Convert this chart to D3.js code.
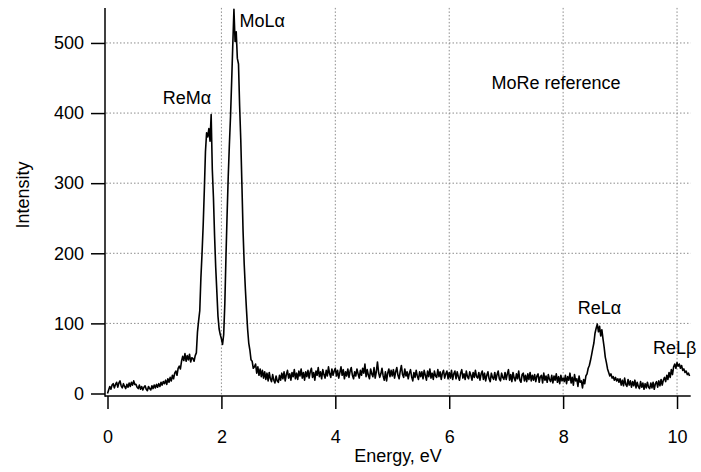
<!DOCTYPE html>
<html>
<head>
<meta charset="utf-8">
<script src="https://cdn.jsdelivr.net/npm/d3@7"></script>
<style>
  html, body { margin: 0; padding: 0; background: #fff; }
  svg text { font-family: "Liberation Sans", Arial, Helvetica, sans-serif; fill: #000; }
</style>
</head>
<body>
<svg id="chart" width="701" height="472"></svg>
<script>
// Channel calibration (eV)
const energyStart = 0;
const energyStep = 0.02;

// Intensity per channel (rows of 0.5 eV)
const intensity = [
  // 0.00 - 0.48
  0, 5, 10, 6, 12, 14, 8, 13, 16, 9, 15, 18, 11, 8, 14, 10, 7, 13, 9, 15, 10, 16, 12, 18, 13,
  // 0.50 - 0.98
  13, 9, 7, 12, 6, 10, 5, 9, 11, 6, 4, 10, 7, 5, 11, 7, 12, 8, 13, 9, 14, 10, 16, 12, 17,
  // 1.00 - 1.48
  14, 19, 13, 21, 16, 23, 18, 26, 21, 29, 32, 26, 36, 39, 35, 46, 53, 47, 57, 46, 54, 48, 56, 45, 51,
  // 1.50 - 1.98
  50, 46, 54, 58, 88, 104, 118, 165, 200, 240, 290, 345, 372, 366, 378, 360, 398, 320, 280, 225, 180, 145, 110, 92, 84,
  // 2.00 - 2.48
  78, 70, 84, 128, 195, 255, 310, 355, 395, 445, 498, 548, 502, 516, 478, 470, 410, 362, 298, 232, 185, 150, 120, 92, 72,
  // 2.50 - 2.98
  62, 48, 46, 36, 38, 42, 29, 38, 26, 35, 24, 33, 22, 31, 20, 29, 18, 30, 21, 17, 27, 19, 15, 25, 18,
  // 3.00 - 3.48
  16, 26, 19, 29, 21, 31, 18, 27, 33, 22, 28, 19, 30, 24, 34, 21, 29, 20, 32, 25, 35, 22, 30, 19, 31,
  // 3.50 - 3.98
  24, 33, 22, 31, 36, 23, 30, 19, 32, 26, 37, 24, 31, 21, 34, 27, 22, 33, 25, 38, 28, 23, 35, 26, 32,
  // 4.00 - 4.48
  36, 25, 33, 22, 30, 38, 26, 34, 21, 31, 25, 35, 23, 32, 37, 26, 21, 31, 25, 35, 28, 22, 33, 26, 36,
  // 4.50 - 4.98
  29, 42, 24, 34, 26, 21, 35, 28, 24, 37, 22, 31, 45, 30, 23, 28, 36, 25, 19, 31, 18, 29, 35, 24, 33,
  // 5.00 - 5.48
  25, 34, 22, 31, 37, 26, 21, 32, 40, 27, 23, 35, 25, 31, 21, 29, 34, 24, 18, 30, 23, 33, 25, 20, 31,
  // 5.50 - 5.98
  24, 31, 21, 33, 26, 19, 32, 24, 35, 22, 29, 20, 32, 25, 23, 34, 24, 31, 20, 29, 33, 22, 28, 32, 21,
  // 6.00 - 6.48
  30, 22, 33, 20, 28, 32, 21, 31, 24, 19, 29, 34, 22, 28, 20, 32, 24, 21, 31, 26, 19, 30, 23, 33, 24,
  // 6.50 - 6.98
  22, 30, 19, 28, 32, 20, 29, 18, 26, 31, 21, 17, 29, 23, 20, 30, 19, 27, 32, 21, 18, 29, 23, 20, 30,
  // 7.00 - 7.48
  20, 28, 34, 19, 27, 17, 30, 22, 18, 28, 21, 32, 19, 16, 27, 29, 18, 26, 17, 28, 20, 30, 18, 26, 19,
  // 7.50 - 7.98
  27, 17, 25, 28, 16, 24, 26, 15, 29, 19, 25, 16, 27, 20, 17, 26, 15, 25, 19, 28, 16, 24, 14, 26, 18,
  // 8.00 - 8.48
  22, 17, 26, 14, 24, 19, 29, 15, 23, 12, 27, 18, 21, 10, 25, 16, 18, 8, 20, 14, 25, 28, 36, 40, 47,
  // 8.50 - 8.98
  55, 64, 72, 86, 93, 99, 88, 96, 82, 91, 78, 66, 52, 44, 35, 30, 25, 28, 22, 24, 19, 23, 18, 21, 16,
  // 9.00 - 9.48
  21, 12, 19, 11, 22, 13, 10, 20, 12, 18, 9, 17, 11, 19, 8, 16, 10, 7, 17, 9, 15, 6, 14, 8, 16,
  // 9.50 - 9.98
  9, 7, 15, 8, 16, 6, 14, 17, 9, 18, 11, 20, 12, 19, 23, 17, 26, 20, 30, 23, 34, 27, 38, 42, 36,
  // 10.00 - 10.22
  44, 39, 42, 36, 40, 33, 35, 30, 32, 27, 29, 25
];

const xTicks = [0, 2, 4, 6, 8, 10];
const yTicks = [0, 100, 200, 300, 400, 500];
const xGrid = [2, 4, 6, 8, 10];
const yGrid = [100, 200, 300, 400, 500];

const peakLabels = [
  { text: "ReMα", e: 0.97, v: 413 },
  { text: "MoLα", e: 2.316, v: 523 },
  { text: "ReLα", e: 8.257, v: 113 },
  { text: "ReLβ", e: 9.578, v: 56 }
];
const noteText = "MoRe reference";
const xTitle = "Energy, eV";
const yTitle = "Intensity";

const FS = 18;
const svg = d3.select("#chart");

const x = d3.scaleLinear().domain([0, 10.24]).range([107.5, 690.7]);
const y = d3.scaleLinear().domain([0, 550]).range([393.5, 7.9]);

const data = intensity.map((v, i) => ({ e: energyStart + i * energyStep, v }));

// grid
svg.append("g").selectAll("line").data(yGrid).join("line")
  .attr("x1", 106).attr("x2", 690.7)
  .attr("y1", d => y(d)).attr("y2", d => y(d))
  .attr("stroke", "#8c8c8c").attr("stroke-width", 1).attr("stroke-dasharray", "1.5,2");
svg.append("g").selectAll("line").data(xGrid).join("line")
  .attr("x1", d => x(d)).attr("x2", d => x(d))
  .attr("y1", 7.9).attr("y2", 395)
  .attr("stroke", "#8c8c8c").attr("stroke-width", 1).attr("stroke-dasharray", "1.5,2");

// axes
const xAxis = d3.axisBottom(x).tickValues(xTicks).tickSize(13).tickPadding(21).tickFormat(d3.format("d"));
const gx = svg.append("g").attr("transform", "translate(0,396)").call(xAxis);
gx.select(".domain").attr("d", `M105,0H690.7`).attr("stroke-width", 1.5);
gx.selectAll(".tick line").attr("stroke-width", 1.5);
gx.selectAll(".tick text").attr("font-size", FS).attr("font-family", "Liberation Sans, Arial, sans-serif");

const yAxis = d3.axisLeft(y).tickValues(yTicks).tickSize(14).tickPadding(7).tickFormat(d3.format("d"));
const gy = svg.append("g").attr("transform", "translate(105,0)").call(yAxis);
gy.select(".domain").attr("d", `M0,7.9V396.7`).attr("stroke-width", 1.5);
gy.selectAll(".tick line").attr("stroke-width", 1.5);
gy.selectAll(".tick text").attr("font-size", FS).attr("font-family", "Liberation Sans, Arial, sans-serif");

// spectrum
const line = d3.line().x(d => x(d.e)).y(d => y(d.v));
svg.append("path").datum(data)
  .attr("d", line)
  .attr("fill", "none").attr("stroke", "#000").attr("stroke-width", 1.6)
  .attr("stroke-linejoin", "round");

// labels
svg.append("g").selectAll("text").data(peakLabels).join("text")
  .attr("x", d => x(d.e)).attr("y", d => y(d.v))
  .attr("font-size", FS)
  .text(d => d.text);

svg.append("text").attr("x", 491.5).attr("y", 89).attr("font-size", FS).text(noteText);

svg.append("text").attr("x", 398).attr("y", 462).attr("text-anchor", "middle")
  .attr("font-size", FS).text(xTitle);

svg.append("text").attr("transform", "translate(29,195) rotate(-90)")
  .attr("text-anchor", "middle").attr("font-size", FS).text(yTitle);
</script>
</body>
</html>
